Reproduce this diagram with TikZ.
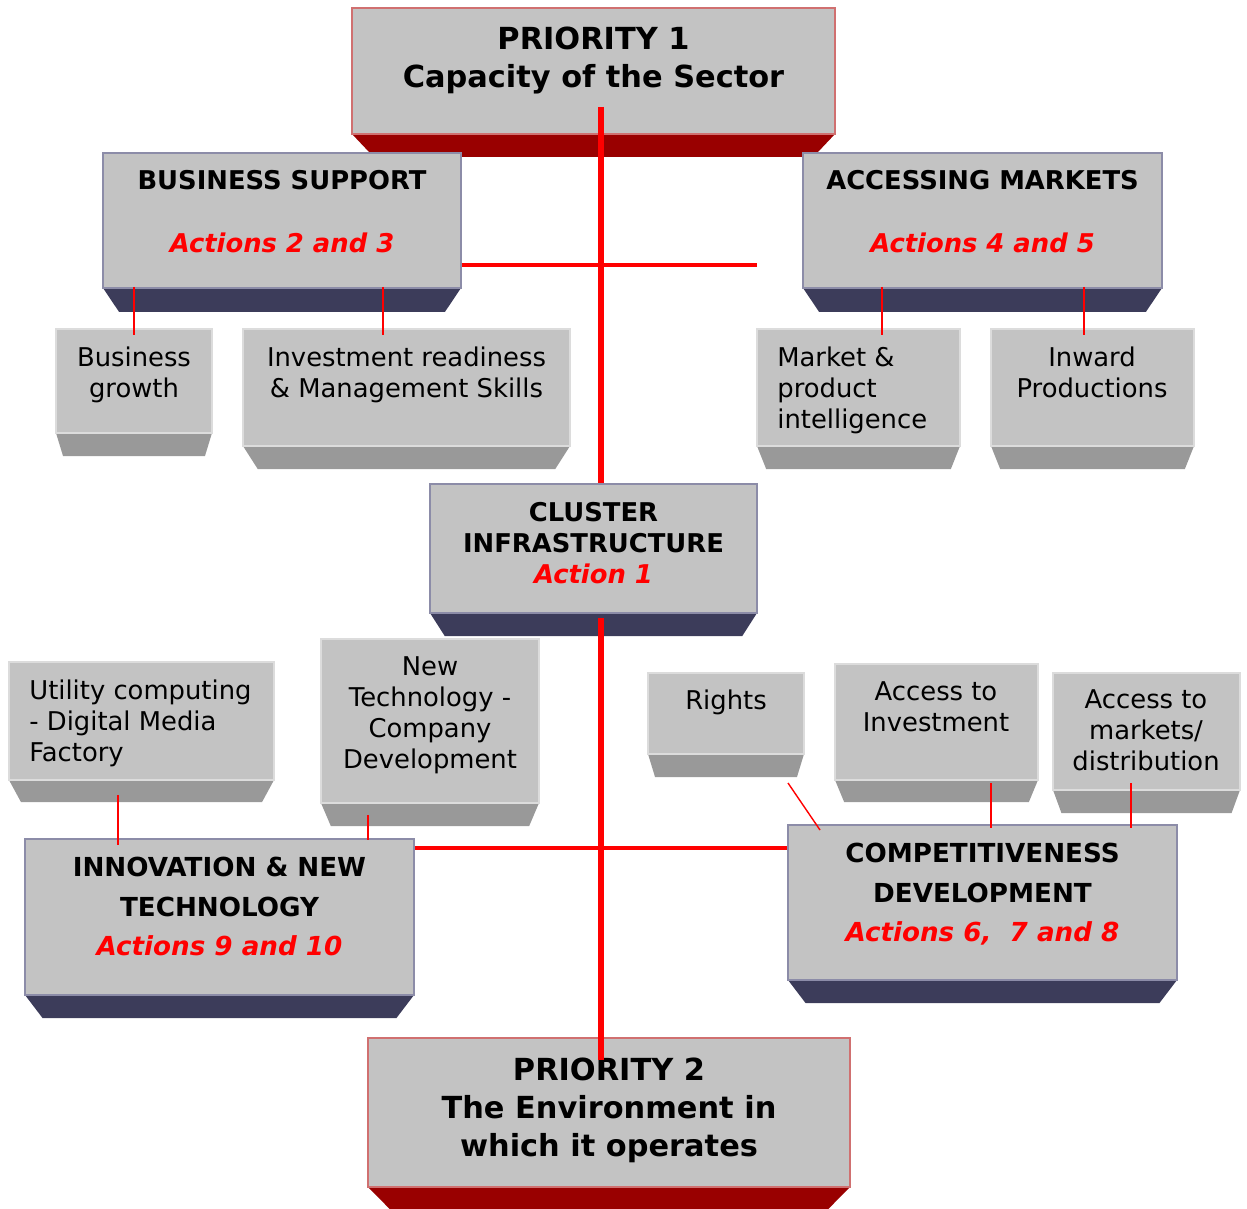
\documentclass[tikz,border=0pt]{standalone}
\usepackage{fontspec}
\setmainfont{DejaVu Sans}
\usetikzlibrary{fit}
\definecolor{facegray}{HTML}{C3C3C3}
\definecolor{bevnavy}{HTML}{3C3C5A}
\definecolor{bevgray}{HTML}{999999}
\definecolor{bevred}{HTML}{990000}
\definecolor{edgered}{HTML}{D07070}
\definecolor{edgenavy}{HTML}{8C8CA8}
\definecolor{edgegray}{HTML}{DCDCDC}
\definecolor{linered}{HTML}{FF0000}
\newcommand\fnorm{\fontsize{14.7pt}{17.58pt}\selectfont}
\newcommand\fbig{\fontsize{17.3pt}{21.54pt}\selectfont}
\newcommand\fwide{\fontsize{14.9pt}{22.68pt}\selectfont}
\newcommand\act[1]{{\color{linered}\bfseries\itshape #1}}
% name, x1, y1, x2, y2, ybottom, bevel colour, edge colour
\newcommand\bbox[8]{%
  \pgfmathsetmacro\ins{0.045*(#4-#2)}%
  \fill[#7] (#2,#5) -- (#4,#5) -- (#4-\ins,#6) -- (#2+\ins,#6) -- cycle;
  \node[fit={(#2,#3) (#4,#5)}, inner sep=0pt, fill=facegray, draw=#8, line width=1.1pt] (#1) {};
}
\tikzset{
  txt/.style={inner sep=0pt, anchor=north, align=center, font=\fnorm},
  txtl/.style={txt, anchor=north west, align=left},
  bigtxt/.style={txt, font=\fbig\bfseries},
  headtxt/.style={txt, font=\fnorm\bfseries},
  widetxt/.style={txt, font=\fwide\bfseries},
  mainline/.style={linered, line width=3pt},
  crossline/.style={linered, line width=1.8pt},
  subline/.style={linered, line width=0.8pt}
}
\begin{document}
\begin{tikzpicture}[x=0.02cm,y=-0.02cm]
\useasboundingbox (0,0) rectangle (1247,1209);
% boxes
\bbox{p1}{352}{8}{835}{134}{157}{bevred}{edgered}
\bbox{bs}{103}{153}{461}{288}{312}{bevnavy}{edgenavy}
\bbox{am}{803}{153}{1162}{288}{312}{bevnavy}{edgenavy}
\bbox{bg}{56}{329}{212}{433}{456}{bevgray}{edgegray}
\bbox{ir}{243}{329}{570}{446}{469}{bevgray}{edgegray}
\bbox{mp}{757}{329}{960}{446}{469}{bevgray}{edgegray}
\bbox{ip}{991}{329}{1194}{446}{469}{bevgray}{edgegray}
\bbox{cl}{430}{484}{757}{613}{636}{bevnavy}{edgenavy}
\bbox{uc}{9}{662}{274}{780}{802}{bevgray}{edgegray}
\bbox{nt}{321}{639}{539}{803}{826}{bevgray}{edgegray}
\bbox{ri}{648}{673}{804}{754}{777}{bevgray}{edgegray}
\bbox{ai}{835}{664}{1038}{780}{802}{bevgray}{edgegray}
\bbox{ad}{1053}{673}{1240}{790}{813}{bevgray}{edgegray}
\bbox{inn}{25}{839}{414}{995}{1018}{bevnavy}{edgenavy}
\bbox{cd}{788}{825}{1177}{980}{1003}{bevnavy}{edgenavy}
\bbox{p2}{368}{1038}{850}{1187}{1209}{bevred}{edgered}
% texts
\node[bigtxt] (t-p1) at (593.5,26.7) {PRIORITY 1\\Capacity of the Sector};
\node[headtxt] (t-bs) at (282,169.5) {BUSINESS SUPPORT};
\node[headtxt] (a-bs) at (282,232.5) {\act{Actions 2 and 3}};
\node[headtxt] (t-am) at (982.5,169.5) {ACCESSING MARKETS};
\node[headtxt] (a-am) at (982.5,232.5) {\act{Actions 4 and 5}};
\node[txt] (t-bg) at (134,346.3) {Business\\growth};
\node[txt] (t-ir) at (406.5,346.3) {Investment readiness\\\& Management Skills};
\node[txtl] (t-mp) at (777,346.3) {Market \&\\product\\intelligence};
\node[txt] (t-ip) at (1092,346.3) {Inward\\Productions};
\node[headtxt] (t-cl) at (593.5,502) {CLUSTER\\INFRASTRUCTURE\\\act{Action 1}};
\node[txtl] (t-uc) at (29,679.3) {Utility computing\\- Digital Media\\Factory};
\node[txt] (t-nt) at (430,656.3) {New\\Technology -\\Company\\Development};
\node[txt] (t-ri) at (726,689.3) {Rights};
\node[txt] (t-ai) at (936,681.3) {Access to\\Investment};
\node[txt] (t-ad) at (1146,689.3) {Access to\\markets/\\distribution};
\node[widetxt] (t-inn) at (219.5,856.5) {INNOVATION \& NEW\\TECHNOLOGY\\\act{Actions 9 and 10}};
\node[widetxt] (t-cd) at (982.5,842.5) {COMPETITIVENESS\\DEVELOPMENT\\\act{Actions 6,~~7 and 8}};
\node[bigtxt] (t-p2) at (609,1057.7) {PRIORITY 2\\The Environment in\\which it operates};
% connector anchor points
\coordinate (v1) at (601,107);
\coordinate (v2) at (601,618);
\coordinate (v3) at (601,1060);
\coordinate (h1) at (757,265);
\coordinate (h2) at (601,848);
\coordinate (s1) at (134,287);
\coordinate (s2) at (383,287);
\coordinate (s3) at (882,287);
\coordinate (s4) at (1084,287);
\coordinate (s5) at (118,795);
\coordinate (s6) at (368,815);
\coordinate (s7) at (788,783);
\coordinate (s8) at (820,830);
\coordinate (s9) at (991,783);
\coordinate (s10) at (1131,783);
% connectors
\draw[mainline] (v1) -- (v1 |- cl.north);
\draw[mainline] (v2) -- (v3);
\draw[crossline] (h1 -| bs.east) -- (h1);
\draw[crossline] (h2 -| inn.east) -- (h2 -| cd.west);
\draw[subline] (s1) -- ([yshift=-4]s1 |- bg.north);
\draw[subline] (s2) -- ([yshift=-4]s2 |- ir.north);
\draw[subline] (s3) -- ([yshift=-4]s3 |- mp.north);
\draw[subline] (s4) -- ([yshift=-4]s4 |- ip.north);
\draw[subline] (s5) -- ([yshift=-4]s5 |- inn.north);
\draw[subline] (s6) -- ([yshift=-1]s6 |- inn.north);
\draw[subline] (s7) -- (s8);
\draw[subline] (s9) -- ([yshift=-2]s9 |- cd.north);
\draw[subline] (s10) -- ([yshift=-2]s10 |- cd.north);
\end{tikzpicture}
\end{document}
